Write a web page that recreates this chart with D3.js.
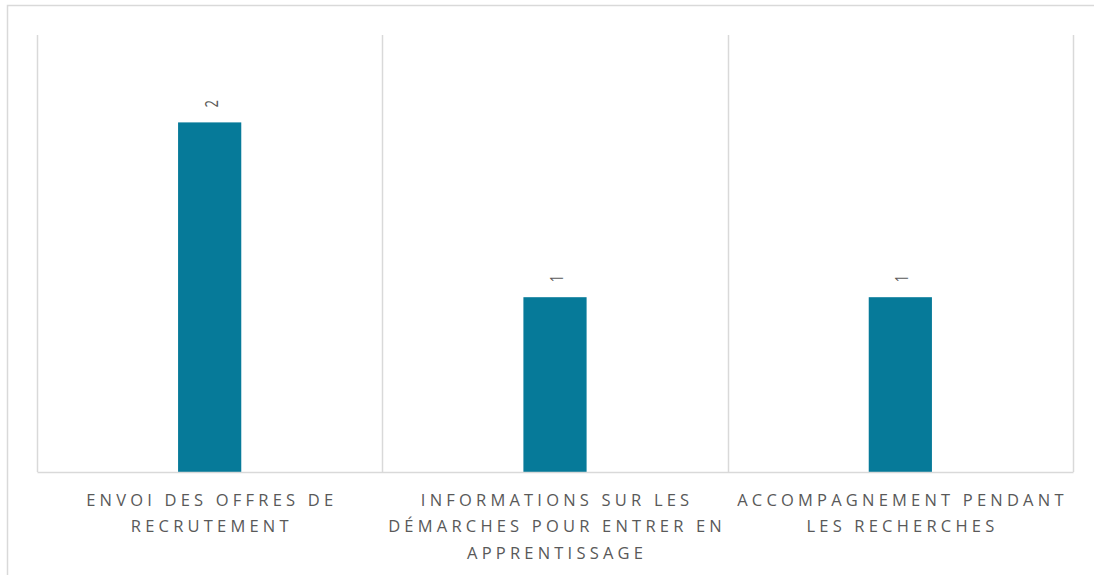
<!DOCTYPE html>
<html>
<head>
<meta charset="utf-8">
<script src="https://cdn.jsdelivr.net/npm/d3@7"></script>
<style>
  html, body { margin: 0; padding: 0; background: #fff; }
  svg { display: block; }
</style>
</head>
<body>
<svg id="chart" width="1094" height="575"></svg>
<script>
const categories = [
  ["ENVOI DES OFFRES DE", "RECRUTEMENT"],
  ["INFORMATIONS SUR LES", "DÉMARCHES POUR ENTRER EN", "APPRENTISSAGE"],
  ["ACCOMPAGNEMENT PENDANT", "LES RECHERCHES"]
];
const values = [2, 1, 1];
const yMax = 2.5;

const svg = d3.select("#chart");
const W = 1094, H = 575;
const margin = { left: 37, right: 21, top: 35, bottom: 103 };
const iw = W - margin.left - margin.right;
const ih = H - margin.top - margin.bottom;

// outer chart border (only top and left visible)
svg.append("rect")
  .attr("x", 7.5).attr("y", 5.5)
  .attr("width", 1100).attr("height", 600)
  .attr("fill", "none").attr("stroke", "#d9d9d9").attr("stroke-width", 1.5);

const g = svg.append("g").attr("transform", `translate(${margin.left},${margin.top})`);

const keys = categories.map((d, i) => i);
const x = d3.scaleBand().domain(keys).range([0, iw]).paddingInner(0).paddingOuter(0);
const y = d3.scaleLinear().domain([0, yMax]).range([ih, 0]);

// vertical gridlines at category boundaries
const bounds = keys.map(k => x(k)).concat([iw]);
g.selectAll("line.vgrid").data(bounds).enter().append("line")
  .attr("class", "vgrid")
  .attr("x1", d => Math.round(d) + 0.5).attr("x2", d => Math.round(d) + 0.5)
  .attr("y1", 0).attr("y2", ih)
  .attr("stroke", "#d9d9d9").attr("stroke-width", 1.5);

// bars
const barFrac = 0.183;
g.selectAll("rect.bar").data(values).enter().append("rect")
  .attr("class", "bar")
  .attr("x", (d, i) => x(i) + x.bandwidth() * (1 - barFrac) / 2)
  .attr("width", x.bandwidth() * barFrac)
  .attr("y", d => y(d))
  .attr("height", d => ih - y(d))
  .attr("fill", "#067A99");

// bottom axis line
const xAxis = d3.axisBottom(x).tickSize(0).tickFormat("");
const ax = g.append("g").attr("transform", `translate(0,${ih})`).call(xAxis);
ax.select(".domain").attr("stroke", "#d9d9d9").attr("stroke-width", 1.5);

// value labels (rotated, slightly stretched horizontally like the reference)
g.selectAll("text.val").data(values).enter().append("text")
  .attr("class", "val")
  .attr("transform", (d, i) => `translate(${x(i) + x.bandwidth() / 2 + 8},${y(d) - 15}) scale(1.45,1) rotate(-90)`)
  .attr("text-anchor", "start")
  .attr("font-family", "'Open Sans', sans-serif")
  .attr("font-size", 13)
  .attr("fill", "#595959")
  .text(d => d);

// category labels
const labels = g.selectAll("text.cat").data(categories).enter().append("text")
  .attr("class", "cat")
  .attr("text-anchor", "middle")
  .attr("font-family", "'Open Sans', sans-serif")
  .attr("font-size", 16.5)
  .attr("letter-spacing", 4.2)
  .attr("fill", "#595959");
labels.each(function(lines, i) {
  const t = d3.select(this);
  lines.forEach((ln, j) => {
    t.append("tspan")
      .attr("x", x(i) + x.bandwidth() / 2 + 2.1)
      .attr("y", ih + 33.5 + j * 26.5)
      .text(ln);
  });
});
</script>
</body>
</html>
